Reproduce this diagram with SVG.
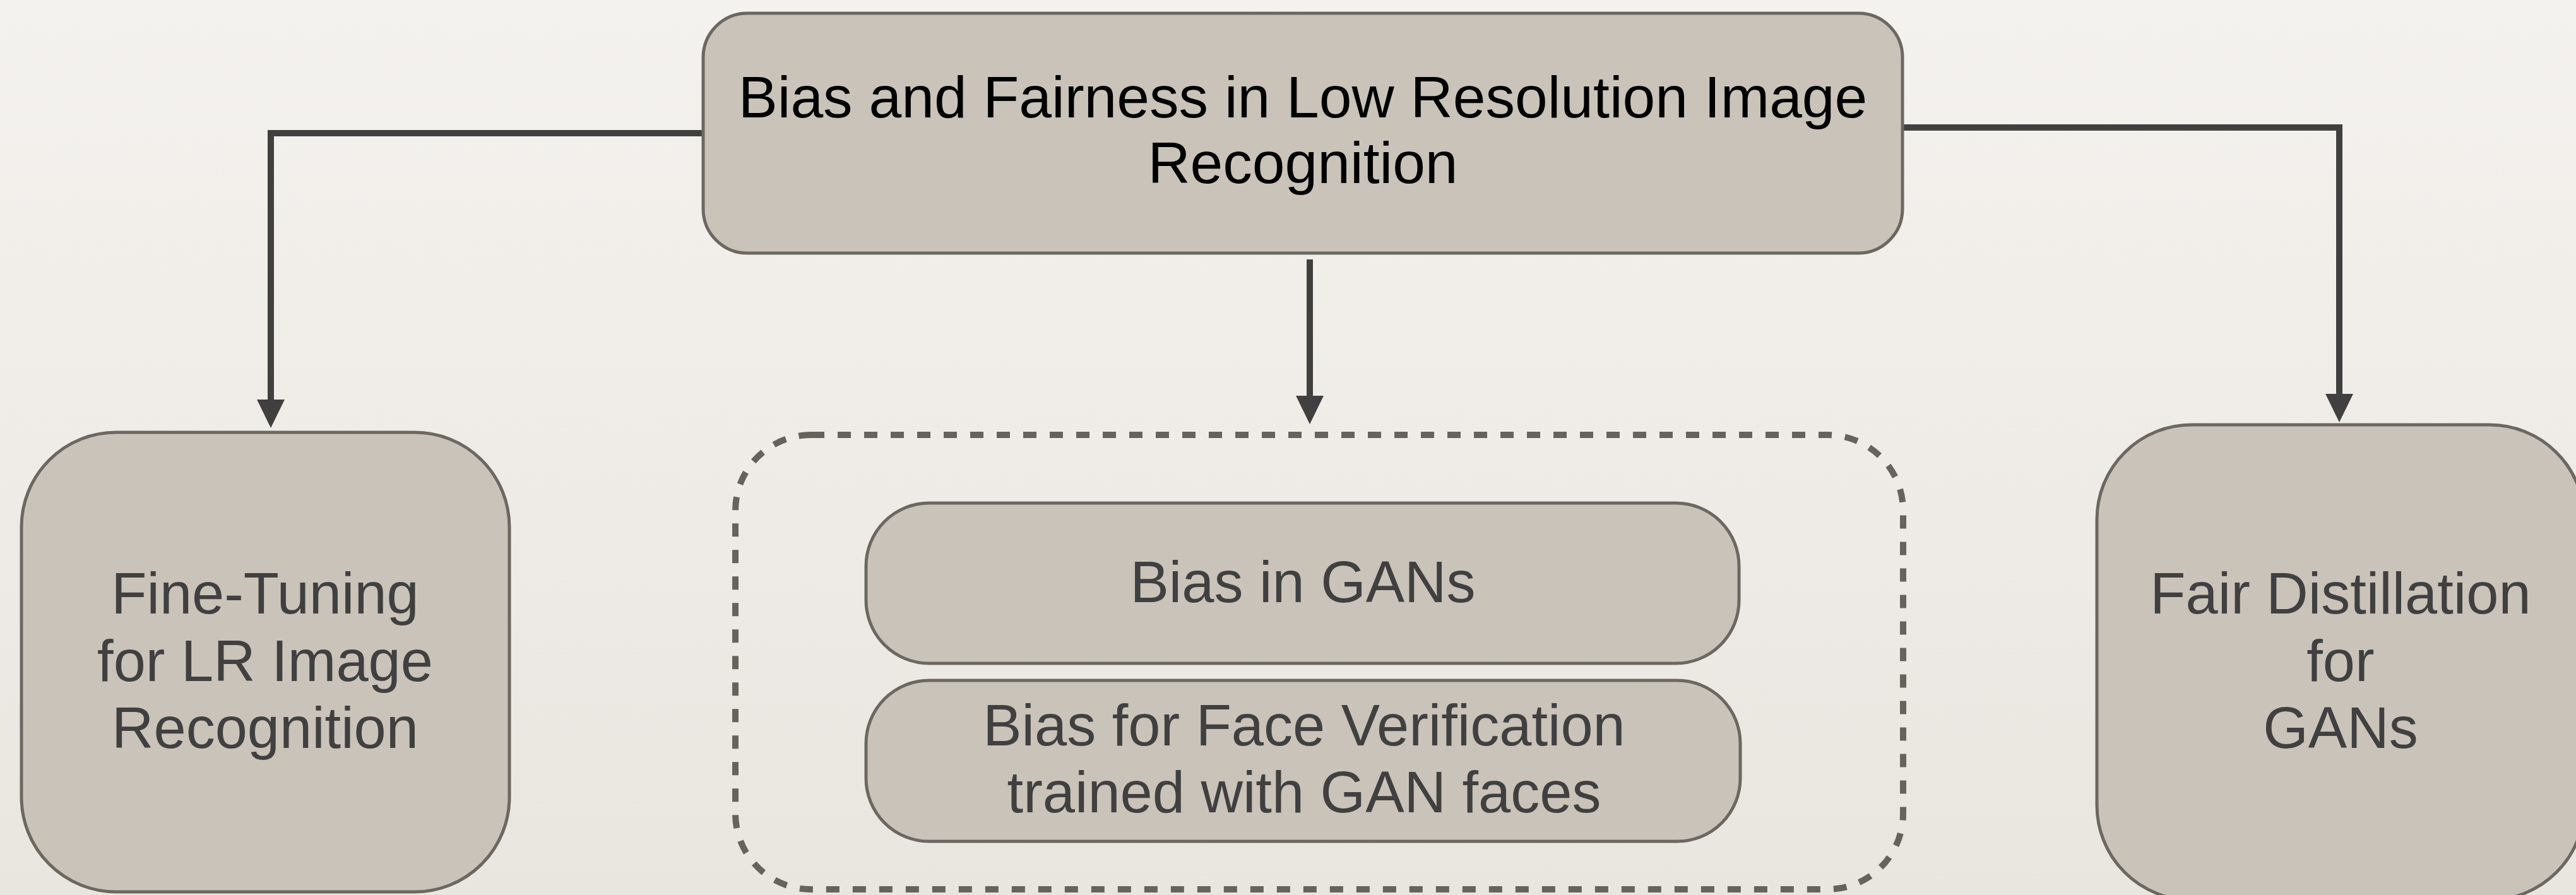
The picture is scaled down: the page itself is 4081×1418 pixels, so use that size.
<svg xmlns="http://www.w3.org/2000/svg" width="4081" height="1418" viewBox="0 0 4081 1418">
  <defs>
    <linearGradient id="bg" x1="0" y1="0" x2="0" y2="1">
      <stop offset="0" stop-color="#f4f2ee"/>
      <stop offset="1" stop-color="#e9e6e0"/>
    </linearGradient>
    <marker id="arr" viewBox="0 0 45 44" refX="1" refY="22" markerWidth="45" markerHeight="44" markerUnits="userSpaceOnUse" orient="auto">
      <path d="M0,0 L45,22 L0,44 Z" fill="#404040"/>
    </marker>
    <style>
      .box { fill: #c9c3ba; stroke: #6b6862; stroke-width: 5; }
      .dash { fill: none; stroke: #66625c; stroke-width: 10; stroke-dasharray: 21 21; }
      .conn { fill: none; stroke: #404040; stroke-width: 10; marker-end: url(#arr); }
      text { font-family: "Liberation Sans", Arial, sans-serif; font-size: 92px; text-anchor: middle; fill: #404040; }
      .title { fill: #000000; font-size: 93px; }
    </style>
  </defs>
  <rect x="0" y="0" width="4081" height="1418" fill="url(#bg)"/>

  <g id="connectors">
    <path class="conn" d="M1113,211 H429 V634"/>
    <path class="conn" d="M3014,202 H3706 V625"/>
    <path class="conn" d="M2075,411 V628"/>
  </g>

  <g id="node-root">
    <rect class="box" x="1114" y="21" width="1900" height="380" rx="70" ry="70"/>
    <text class="title" x="2064" y="186">Bias and Fairness in Low Resolution Image</text>
    <text class="title" x="2064" y="290">Recognition</text>
  </g>

  <g id="node-finetuning">
    <rect class="box" x="34" y="685" width="773" height="728" rx="150" ry="150"/>
    <text x="420" y="972">Fine-Tuning</text>
    <text x="420" y="1079">for LR Image</text>
    <text x="420" y="1185">Recognition</text>
  </g>

  <g id="node-group">
    <rect class="dash" x="1165" y="689" width="1850" height="720" rx="120" ry="120"/>
  </g>

  <g id="node-bias-gans">
    <rect class="box" x="1372" y="797" width="1383" height="254" rx="100" ry="100"/>
    <text x="2064" y="954">Bias in GANs</text>
  </g>

  <g id="node-bias-face">
    <rect class="box" x="1372" y="1078" width="1385" height="255" rx="100" ry="100"/>
    <text x="2066" y="1181">Bias for Face Verification</text>
    <text x="2066" y="1287">trained with GAN faces</text>
  </g>

  <g id="node-fair-distillation">
    <rect class="box" x="3322" y="673" width="772" height="753" rx="150" ry="150"/>
    <text x="3708" y="972">Fair Distillation</text>
    <text x="3708" y="1079">for</text>
    <text x="3708" y="1185">GANs</text>
  </g>
</svg>
